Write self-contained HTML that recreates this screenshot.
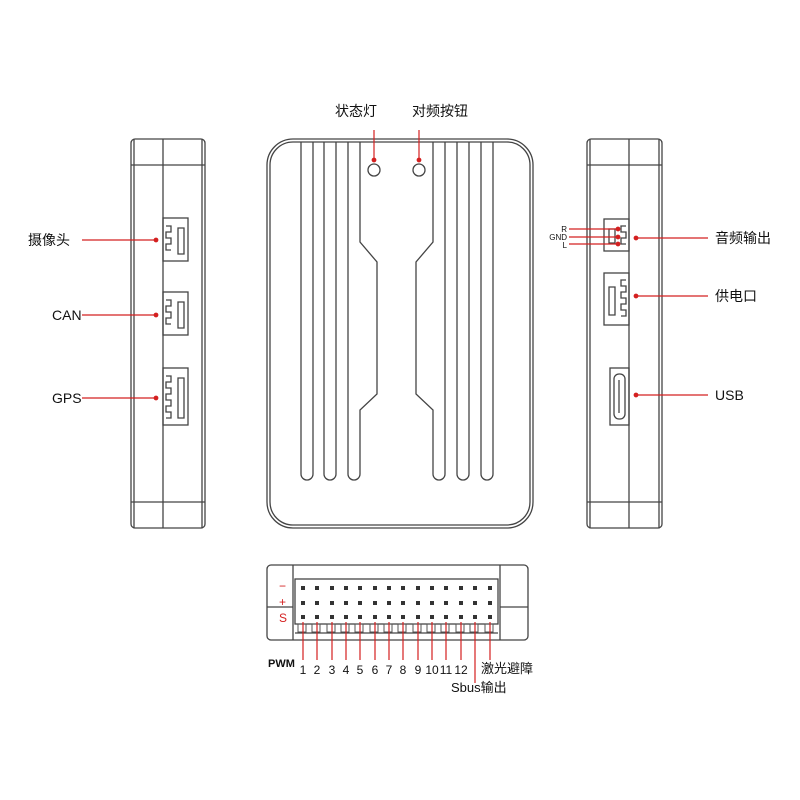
<!DOCTYPE html>
<html><head><meta charset="utf-8"><style>
body{margin:0;background:#fff}
svg{display:block}
text{font-family:"Liberation Sans","Noto Sans CJK SC",sans-serif;fill:#111}
</style></head><body>
<svg width="800" height="800" viewBox="0 0 800 800" xmlns="http://www.w3.org/2000/svg">
<g fill="none" stroke="#444" stroke-width="1.3">
<rect x="267" y="139" width="266" height="389" rx="26"/>
<rect x="270" y="142" width="260" height="383" rx="23"/>
<g>
<path d="M301 142 V474 a6 6 0 0 0 12 0 V142"/>
<path d="M324 142 V474 a6 6 0 0 0 12 0 V142"/>
<path d="M348 142 V474 a6 6 0 0 0 12 0 V410 L360 410 L377 394 V262 L360 242 V142"/>
<path d="M493 142 V474 a6 6 0 0 1 -12 0 V142"/>
<path d="M469 142 V474 a6 6 0 0 1 -12 0 V142"/>
<path d="M445 142 V474 a6 6 0 0 1 -12 0 V410 L416 394 V262 L433 242 V142"/>
</g>
<circle cx="374" cy="170" r="6"/>
<circle cx="419" cy="170" r="6"/>
<rect x="131" y="139" width="74" height="389" rx="4"/>
<line x1="134" y1="139" x2="134" y2="528"/>
<line x1="202" y1="139" x2="202" y2="528"/>
<line x1="163" y1="139" x2="163" y2="528"/>
<line x1="131" y1="165" x2="205" y2="165"/>
<line x1="131" y1="502" x2="205" y2="502"/>
<rect x="163" y="218" width="25" height="43"/>
<path d="M166 226h5v6h-5v6h5v6h-5v6h5 M178 228h6v26h-6z"/>
<rect x="163" y="292" width="25" height="43"/>
<path d="M166 300h5v6h-5v6h5v6h-5v6h5 M178 302h6v26h-6z"/>
<rect x="163" y="368" width="25" height="57"/>
<path d="M166 376h5v6h-5v6h5v6h-5v6h5v6h-5v6h5v6h-5 M178 378h6v40h-6z"/>
<rect x="587" y="139" width="75" height="389" rx="4"/>
<line x1="590" y1="139" x2="590" y2="528"/>
<line x1="659" y1="139" x2="659" y2="528"/>
<line x1="629" y1="139" x2="629" y2="528"/>
<line x1="587" y1="165" x2="662" y2="165"/>
<line x1="587" y1="502" x2="662" y2="502"/>
<rect x="604" y="219" width="25" height="32"/>
<path d="M626 226h-5v6h5v6h-5v6h5 M609 229h6v14h-6z"/>
<rect x="604" y="273" width="25" height="52"/>
<path d="M626 280h-5v6h5v6h-5v6h5v6h-5v6h5v6h-5 M609 287h6v28h-6z"/>
<rect x="610" y="368" width="19" height="57"/>
<rect x="614" y="374" width="11" height="45" rx="5"/>
<line x1="619" y1="380" x2="619" y2="413"/>
<rect x="267" y="565" width="261" height="75" rx="4"/>
<line x1="293" y1="565" x2="293" y2="640"/>
<line x1="500" y1="565" x2="500" y2="640"/>
<line x1="267" y1="607" x2="293" y2="607"/>
<line x1="500" y1="607" x2="528" y2="607"/>
<rect x="295" y="579" width="203" height="45"/>
<line x1="295" y1="633" x2="498" y2="633"/>
</g>
<g fill="#333">
<g id="pins">
<rect x="301" y="586" width="4" height="4"/><rect x="315" y="586" width="4" height="4"/><rect x="330" y="586" width="4" height="4"/><rect x="344" y="586" width="4" height="4"/><rect x="358" y="586" width="4" height="4"/><rect x="373" y="586" width="4" height="4"/><rect x="387" y="586" width="4" height="4"/><rect x="401" y="586" width="4" height="4"/><rect x="416" y="586" width="4" height="4"/><rect x="430" y="586" width="4" height="4"/><rect x="444" y="586" width="4" height="4"/><rect x="459" y="586" width="4" height="4"/><rect x="473" y="586" width="4" height="4"/><rect x="488" y="586" width="4" height="4"/>
</g>
<use href="#pins" y="15"/>
<use href="#pins" y="29"/>
</g>
<g fill="none" stroke="#555" stroke-width="1">
<path d="M298 624h8v8h-8z M312 624h8v8h-8z M327 624h8v8h-8z M341 624h8v8h-8z M355 624h8v8h-8z M370 624h8v8h-8z M384 624h8v8h-8z M398 624h8v8h-8z M413 624h8v8h-8z M427 624h8v8h-8z M441 624h8v8h-8z M456 624h8v8h-8z M470 624h8v8h-8z M485 624h8v8h-8z"/>
</g>
<g stroke="#d42020" stroke-width="1.2" fill="#d42020">
<line x1="374" y1="130" x2="374" y2="160"/><circle cx="374" cy="160" r="1.8"/>
<line x1="419" y1="130" x2="419" y2="160"/><circle cx="419" cy="160" r="1.8"/>
<line x1="82" y1="240" x2="156" y2="240"/><circle cx="156" cy="240" r="1.8"/>
<line x1="82" y1="315" x2="156" y2="315"/><circle cx="156" cy="315" r="1.8"/>
<line x1="82" y1="398" x2="156" y2="398"/><circle cx="156" cy="398" r="1.8"/>
<line x1="636" y1="238" x2="708" y2="238"/><circle cx="636" cy="238" r="1.8"/>
<line x1="636" y1="296" x2="708" y2="296"/><circle cx="636" cy="296" r="1.8"/>
<line x1="636" y1="395" x2="708" y2="395"/><circle cx="636" cy="395" r="1.8"/>
<line x1="569" y1="229" x2="618" y2="229"/><circle cx="618" cy="229" r="1.8"/>
<line x1="569" y1="237" x2="618" y2="237"/><circle cx="618" cy="237" r="1.8"/>
<line x1="569" y1="244" x2="618" y2="244"/><circle cx="618" cy="244" r="1.8"/>
<path d="M303 660V622 M317 660V622 M332 660V622 M346 660V622 M360 660V622 M375 660V622 M389 660V622 M403 660V622 M418 660V622 M432 660V622 M446 660V622 M461 660V622 M475 683V622 M490 660V622" fill="none"/>
</g>
<g font-size="14">
<text x="335" y="116">状态灯</text>
<text x="412" y="116">对频按钮</text>
<text x="28" y="245">摄像头</text>
<text x="52" y="320">CAN</text>
<text x="52" y="403">GPS</text>
<text x="715" y="243">音频输出</text>
<text x="715" y="301">供电口</text>
<text x="715" y="400">USB</text>
</g>
<g font-size="8" text-anchor="end"><text x="567" y="232">R</text><text x="567" y="240">GND</text><text x="567" y="248">L</text></g>
<g font-size="12"><text x="279" y="590" style="fill:#d42020">−</text><text x="279" y="606" style="fill:#d42020">+</text><text x="279" y="622" style="fill:#d42020">S</text></g>
<text x="268" y="667" font-size="11" font-weight="bold">PWM</text>
<g font-size="12" text-anchor="middle">
<text x="303" y="674">1</text><text x="317" y="674">2</text><text x="332" y="674">3</text><text x="346" y="674">4</text><text x="360" y="674">5</text><text x="375" y="674">6</text><text x="389" y="674">7</text><text x="403" y="674">8</text><text x="418" y="674">9</text><text x="432" y="674">10</text><text x="446" y="674">11</text><text x="461" y="674">12</text>
</g>
<text x="481" y="673" font-size="13">激光避障</text>
<text x="451" y="692" font-size="13">Sbus输出</text>
</svg>
</body></html>
